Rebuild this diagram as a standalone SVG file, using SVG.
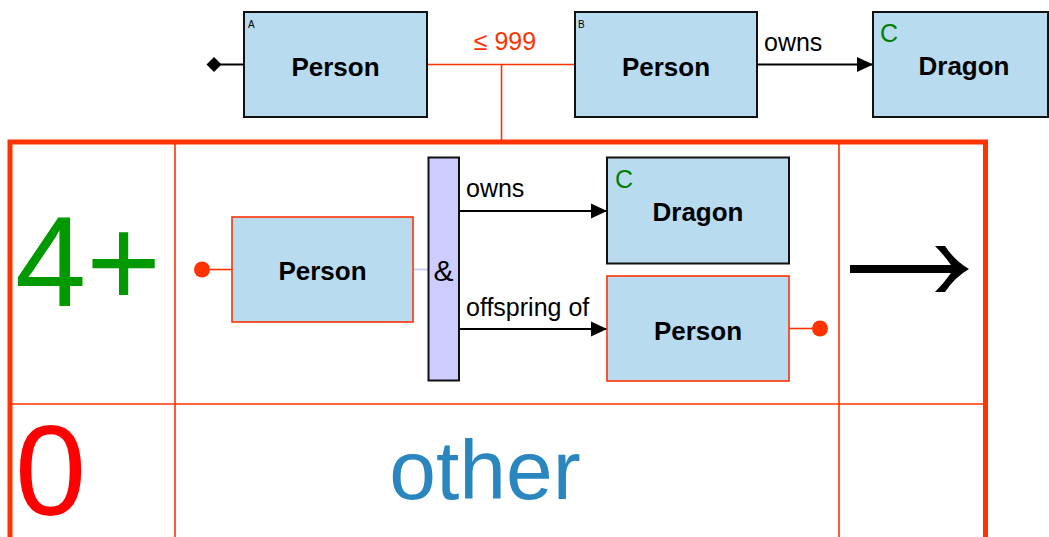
<svg xmlns="http://www.w3.org/2000/svg" width="1049" height="537" viewBox="0 0 1049 537">
<style>
.node{fill:#b8dbf0;stroke:#111;stroke-width:2}
.rnode{fill:#b8dbf0;stroke:#ff3300;stroke-width:1.6}
.title{font-family:"Liberation Sans",Arial,sans-serif;font-weight:bold;font-size:26px;fill:#000;text-anchor:middle}
.tag{font-family:"Liberation Sans",Arial,sans-serif;font-size:10px;fill:#000}
.ctag{font-family:"Liberation Sans",Arial,sans-serif;font-size:25px;fill:#008000}
.lbl{font-family:"Liberation Sans",Arial,sans-serif;font-size:25px;fill:#000}
.grid{stroke:#ff3300;stroke-width:1.6;fill:none}
.edge{stroke:#000;stroke-width:2;fill:none}
.redge{stroke:#ff3300;stroke-width:1.6;fill:none}
</style>
<defs>
<marker id="arr" viewBox="0 0 16 16" refX="16" refY="8" markerWidth="16" markerHeight="16" markerUnits="userSpaceOnUse" orient="auto">
<path d="M0,0.5 L16,8 L0,15.5 Z" fill="#000"/>
</marker>
</defs>

<g id="frame">
<path d="M10,560 L10,142 L985.5,142 L985.5,560" fill="none" stroke="#ff3300" stroke-width="5"/>
<line class="grid" x1="175" y1="142" x2="175" y2="537"/>
<line class="grid" x1="839" y1="142" x2="839" y2="537"/>
<line class="grid" x1="10" y1="404" x2="985" y2="404"/>
</g>

<g id="connectors">
<line class="edge" x1="244" y1="64.5" x2="218" y2="64.5"/>
<path d="M206.5,64.5 L214,57 L221.5,64.5 L214,72 Z" fill="#000"/>
<line class="redge" x1="427" y1="64.5" x2="575" y2="64.5"/>
<line class="redge" x1="501.5" y1="64.5" x2="501.5" y2="140"/>
<line class="edge" x1="757" y1="64.5" x2="873" y2="64.5" marker-end="url(#arr)"/>
<line class="redge" x1="202" y1="269.5" x2="232" y2="269.5"/>
<circle cx="202" cy="269.5" r="8" fill="#ff3300"/>
<line x1="413" y1="269.5" x2="428" y2="269.5" stroke="#ccccff" stroke-width="2"/>
<line class="edge" x1="459" y1="211" x2="607" y2="211" marker-end="url(#arr)"/>
<line class="edge" x1="459" y1="329" x2="607" y2="329" marker-end="url(#arr)"/>
<line class="redge" x1="789" y1="328.5" x2="820" y2="328.5"/>
<circle cx="820" cy="328.5" r="8" fill="#ff3300"/>
<text class="lbl" x="505" y="50" text-anchor="middle" style="fill:#ff3300">≤ 999</text>
<text class="lbl" x="764" y="51">owns</text>
<text class="lbl" x="466" y="197">owns</text>
<text class="lbl" x="466" y="316">offspring of</text>
</g>

<g id="nodeA">
<rect class="node" x="244" y="12" width="183" height="105"/>
<text class="tag" x="248" y="28">A</text>
<text class="title" x="335.5" y="76">Person</text>
</g>

<g id="nodeB">
<rect class="node" x="575" y="12" width="182" height="105"/>
<text class="tag" x="578" y="28">B</text>
<text class="title" x="666" y="76">Person</text>
</g>

<g id="nodeC">
<rect class="node" x="873" y="12" width="175" height="105"/>
<text class="ctag" x="880" y="42">C</text>
<text class="title" x="964" y="75">Dragon</text>
</g>

<g id="count4">
<text x="15" y="306" font-family="Liberation Sans,Arial,sans-serif" font-size="128" fill="#009900">4+</text>
</g>

<g id="count0">
<text x="15" y="515" font-family="Liberation Sans,Arial,sans-serif" font-size="128" fill="#ff0000">0</text>
</g>

<g id="other">
<text x="485" y="499" font-family="Liberation Sans,Arial,sans-serif" font-size="84" fill="#2a86bf" text-anchor="middle">other</text>
</g>

<g id="person1">
<rect class="rnode" x="232" y="217" width="181" height="105"/>
<text class="title" x="322.5" y="280">Person</text>
</g>

<g id="andbar">
<rect x="428.5" y="157.5" width="30.5" height="223" fill="#ccccff" stroke="#111" stroke-width="2"/>
<text x="443.5" y="281" font-family="Liberation Sans,Arial,sans-serif" font-size="30" text-anchor="middle" fill="#000">&amp;</text>
</g>

<g id="dragon2">
<rect class="node" x="607" y="157.5" width="182" height="106"/>
<text class="ctag" x="615" y="188">C</text>
<text class="title" x="698" y="221">Dragon</text>
</g>

<g id="person2">
<rect class="rnode" x="607" y="276" width="182" height="105"/>
<text class="title" x="698" y="340">Person</text>
</g>

<g id="bigarrow">
<path d="M850,265 L951,265 Q944,255 935,246 L945,246 Q955,261 969,269 Q955,277 945,292 L935,292 Q944,283 951,273 L850,273 Z" fill="#000"/>
</g>
</svg>
